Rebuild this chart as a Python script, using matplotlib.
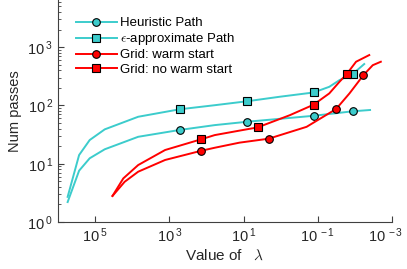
import matplotlib
matplotlib.use("Agg")
import matplotlib.pyplot as plt
from matplotlib.ticker import LogLocator, NullLocator, FuncFormatter
from matplotlib.transforms import ScaledTranslation
import numpy as np

plt.rcParams['font.family'] = ['Liberation Sans', 'DejaVu Sans']
plt.rcParams['mathtext.fontset'] = 'cm'
plt.rcParams['axes.unicode_minus'] = False

# curves (lambda, number of passes)
heur_lam = [5.5e5, 2.7e5, 1.4e5, 5.5e4, 6.9e3, 525, 60, 8.1, 0.13, 0.0115, 0.0039]
heur_np = [2.2, 7.6, 12.4, 17.7, 29, 38, 46, 52.5, 66.5, 79.4, 83.6]
heur_mk_lam = [525, 8.1, 0.13, 0.0115]
heur_mk_np = [38, 52.5, 66.5, 79.4]

eps_lam = [5.5e5, 2.7e5, 1.4e5, 5.5e4, 6.9e3, 525, 60, 8.1, 1.07, 0.13, 0.049, 0.026, 0.0115, 0.0056]
eps_np = [2.7, 14.1, 25.5, 38.9, 64, 86, 101, 118, 141, 167, 209, 272, 346, 514]
eps_mk_lam = [525, 8.1, 0.13, 0.0115]
eps_mk_np = [86, 118, 167, 346]

warm_lam = [3.4e4, 1.6e4, 6.9e3, 1.3e3, 138, 60, 12.9, 2.1, 0.2, 0.032, 0.014, 0.0059, 0.0033, 0.002]
warm_np = [2.8, 4.9, 7.3, 11.6, 16.7, 18.8, 23, 26.9, 43, 87, 161, 331, 491, 563]
warm_mk_lam = [138, 2.1, 0.032, 0.0059]
warm_mk_np = [16.7, 26.9, 87, 331]

cold_lam = [3.4e4, 1.74e4, 6.9e3, 1.3e3, 138, 60, 12.9, 4.2, 0.57, 0.13, 0.049, 0.026, 0.0166, 0.0093, 0.0041]
cold_np = [2.8, 5.6, 9.5, 17.2, 26.3, 31, 37, 42, 68, 103, 161, 255, 346, 563, 733]
cold_mk_lam = [138, 4.2, 0.13, 0.0166]
cold_mk_np = [26.3, 42, 103, 346]

cyan = '#3ccccc'
red = '#ff0000'

fig = plt.figure(figsize=(4.07, 2.69), dpi=100)
ax = fig.add_axes([58 / 407, 1 - 222 / 269, 334 / 407, 222 / 269])

series = [
    (heur_lam, heur_np, heur_mk_lam, heur_mk_np, cyan, 'o', 'Heuristic Path'),
    (eps_lam, eps_np, eps_mk_lam, eps_mk_np, cyan, 's', r'$\epsilon$-approximate Path'),
    (warm_lam, warm_np, warm_mk_lam, warm_mk_np, red, 'o', 'Grid: warm start'),
    (cold_lam, cold_np, cold_mk_lam, cold_mk_np, red, 's', 'Grid: no warm start'),
]
handles = []
for lam, npass, mlam, mnp, c, m, lab in series:
    ax.plot(lam, npass, color=c, lw=1.4)
    ax.plot(mlam, mnp, ls='none', marker=m, ms=5.5, mfc=c, mec='black', mew=0.8)
    h, = ax.plot([], [], color=c, lw=1.4, marker=m, ms=5.5, mfc=c, mec='black', mew=0.8, label=lab)
    handles.append(h)

ax.set_xscale('log')
ax.set_yscale('log')
ax.set_xlim(1e6, 1e-3)
ax.set_ylim(1, 10 ** 3.81)
ax.set_xticks([1e5, 1e3, 1e1, 1e-1, 1e-3])
ax.xaxis.set_minor_locator(NullLocator())
ax.yaxis.set_major_locator(LogLocator(base=10, numticks=10))
ax.yaxis.set_minor_locator(LogLocator(base=10, subs=range(2, 10), numticks=10))


def pow_label(v, pos):
    e = int(round(np.log10(v)))
    return r'10$^{\mathregular{\,%d}}$' % e


ax.xaxis.set_major_formatter(FuncFormatter(pow_label))
ax.yaxis.set_major_formatter(FuncFormatter(pow_label))

for s in ['top', 'right']:
    ax.spines[s].set_visible(False)
for s in ['left', 'bottom']:
    ax.spines[s].set_color('#404040')
    ax.spines[s].set_linewidth(0.8)
ax.tick_params(which='both', direction='in', colors='#404040', labelcolor='#262626', labelsize=10.5)
ax.tick_params(which='major', length=4)
ax.tick_params(which='minor', length=2)

ax.set_xlabel(r'Value of   $\lambda$', fontsize=11, color='#262626')
ax.xaxis.set_label_coords(0.5, -0.118)
ax.set_ylabel('Num passes', fontsize=10.5, color='#262626')
ax.yaxis.set_label_coords(-0.108, 0.5)

ax.legend(handles=handles, loc='upper left', bbox_to_anchor=(76 / 407, 1 - 17 / 269),
          bbox_transform=fig.transFigure, frameon=False, fontsize=9.5,
          handlelength=3.1, handletextpad=0.2, labelspacing=0.15, borderaxespad=0, borderpad=0)

# last x tick label sits a little left of its tick, as in the original
fig.canvas.draw()
last = ax.xaxis.get_major_ticks()[-1].label1
last.set_transform(last.get_transform() + ScaledTranslation(-6 / 100, 0, fig.dpi_scale_trans))

fig.savefig('out.png', dpi=100)
